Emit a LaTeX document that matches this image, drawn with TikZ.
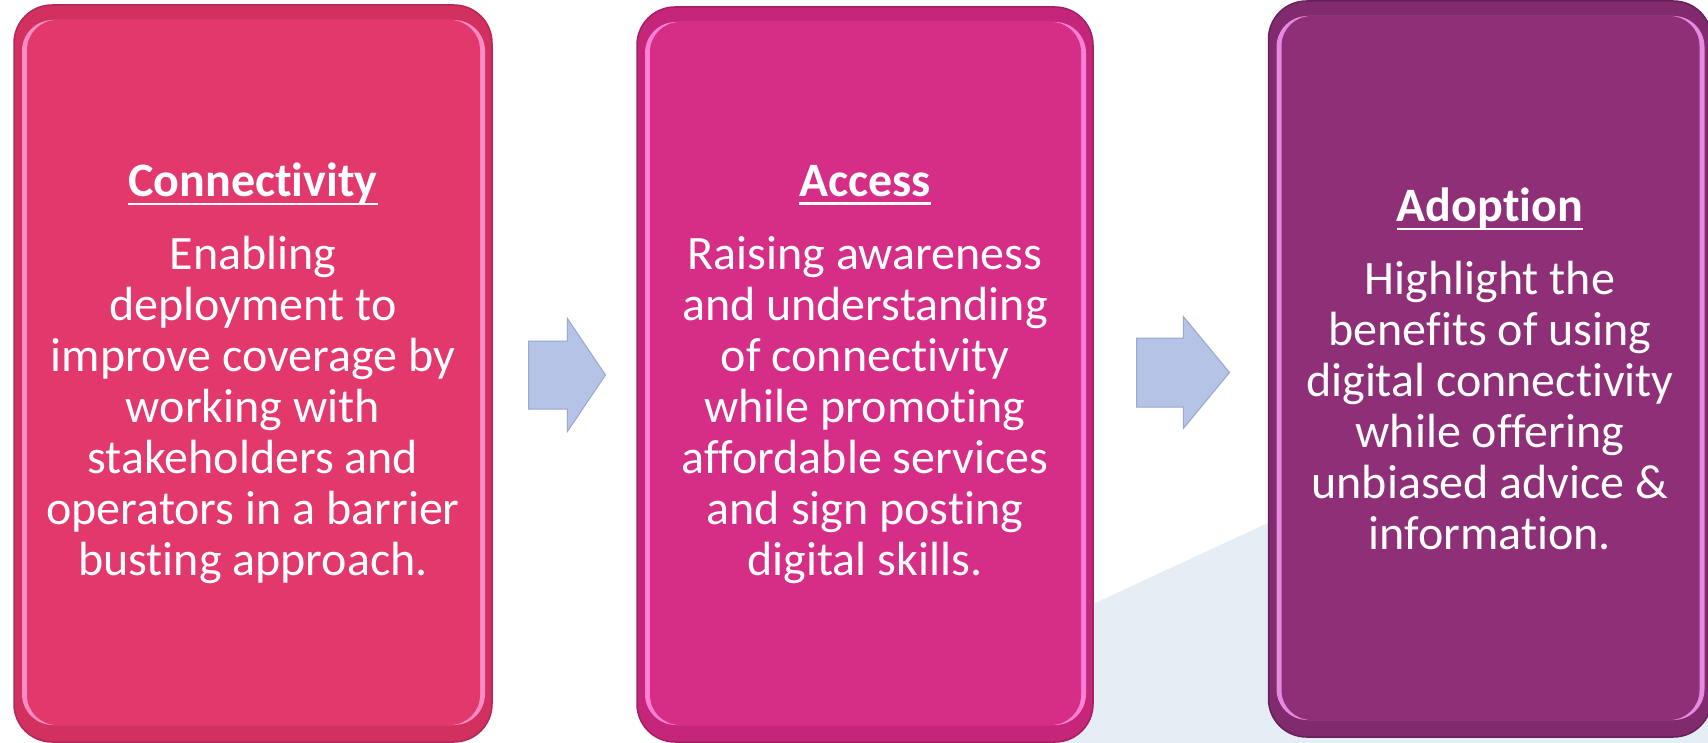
\documentclass[tikz,border=0pt]{standalone}
\usepackage{fontspec}
\setmainfont{Carlito}[Ligatures=NoCommon]
\usetikzlibrary{shapes.arrows}
\newsavebox\headbox
\newcommand\headul[1]{\sbox\headbox{#1}\usebox\headbox\kern-\wd\headbox\rule[-8.5pt]{\wd\headbox}{2.6pt}}
\definecolor{connface}{HTML}{E3386C}
\definecolor{connedge}{HTML}{D2305F}
\definecolor{connrim}{HTML}{B3285A}
\definecolor{connglow}{HTML}{FF8CC2}
\definecolor{accface}{HTML}{D62D87}
\definecolor{accedge}{HTML}{C62679}
\definecolor{accrim}{HTML}{A32065}
\definecolor{accglow}{HTML}{FF80D6}
\definecolor{adoptface}{HTML}{8E2F78}
\definecolor{adoptedge}{HTML}{812A6E}
\definecolor{adoptrim}{HTML}{66205A}
\definecolor{adoptglow}{HTML}{E68ADF}
\definecolor{arrowfill}{HTML}{B4C3E6}
\definecolor{arrowline}{HTML}{98A8CE}
\definecolor{backdrop}{HTML}{E6EEF5}

\begin{document}
\begin{tikzpicture}[x=1pt,y=-1pt,
  panel/.style={rounded corners=38pt, inner sep=0pt, align=center, text=white,
    font=\fontsize{48}{51}\selectfont, draw=#1rim, line width=1.5pt, fill=#1edge,
    path picture={
      \fill[#1glow, rounded corners=31pt] ([shift={(8pt,-15pt)}]path picture bounding box.north west)
        rectangle ([shift={(-7pt,17pt)}]path picture bounding box.south east);
      \fill[#1face, rounded corners=30pt] ([shift={(13pt,-15pt)}]path picture bounding box.north west)
        rectangle ([shift={(-12pt,17pt)}]path picture bounding box.south east);
    }},
  flowarrow/.style={single arrow, single arrow head indent=0pt, inner sep=0pt, anchor=west,
    fill=arrowfill, draw=arrowline, line width=1pt}
]
\useasboundingbox (0,0) rectangle (1708,743);
\fill[backdrop] (793,743) -- (1708,319) -- (1708,743) -- cycle;

\node[panel=conn, minimum width=478pt, minimum height=737pt] (conn) at (253,373.5)
  {\textbf{\headul{Connectivity}}\\[22pt]
   Enabling\\ deployment to\\ improve coverage by\\ working with\\
   stakeholders and\\ operators in a barrier\\ busting approach.};
\node[panel=acc, minimum width=456pt, minimum height=735pt] (acc) at (865,374.5)
  {\textbf{\headul{Access}}\\[22pt]
   Raising awareness\\ and understanding\\ of connectivity\\ while promoting\\
   affordable services\\ and sign posting\\ digital skills.};
\node[panel=adopt, minimum width=443pt, minimum height=736pt] (adopt) at (1490,369)
  {\textbf{\headul{Adoption}}\\[22pt]
   Highlight the\\ benefits of using\\ digital connectivity\\ while offering\\
   unbiased advice \&\\ information.};

\node[flowarrow, minimum height=77pt, single arrow head extend=22.5pt,
  single arrow tip angle=112] (arr1) at (528,375) {\rule{0pt}{67pt}};
\node[flowarrow, minimum height=93pt, single arrow head extend=21.5pt,
  single arrow tip angle=101] (arr2) at (1136,372.5) {\rule{0pt}{68pt}};
\end{tikzpicture}
\end{document}
